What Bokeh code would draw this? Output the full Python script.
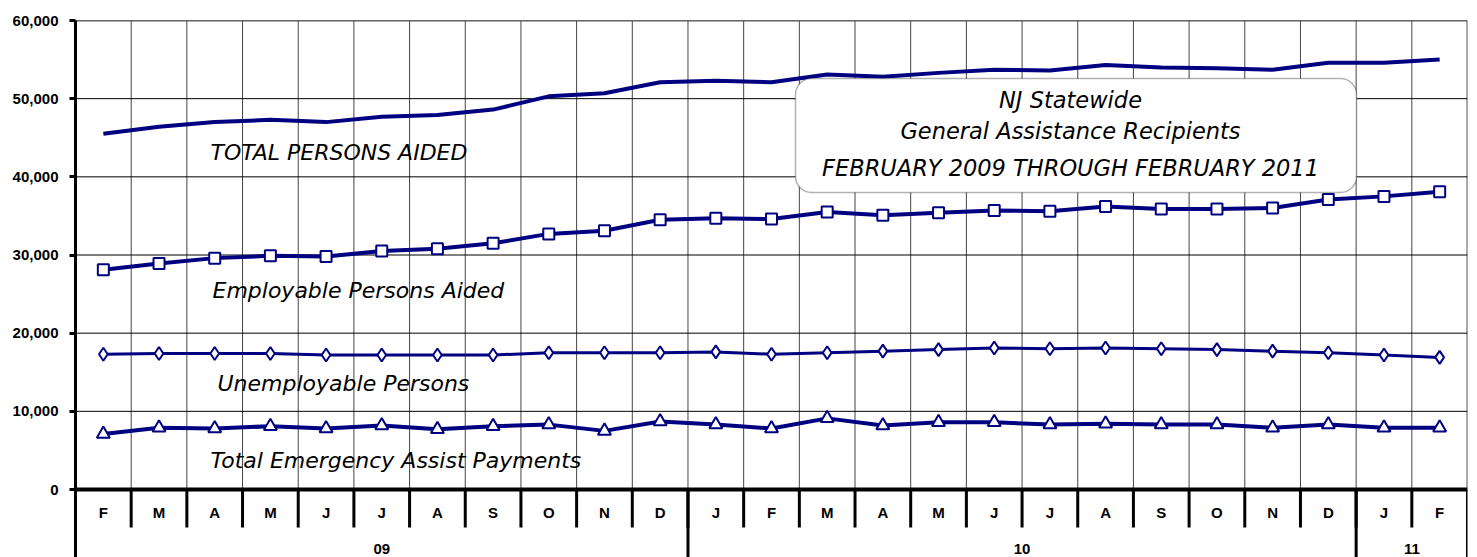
from bokeh.plotting import figure
from bokeh.models import FixedTicker, NumeralTickFormatter, BoxAnnotation, Label
from bokeh.core.properties import value
from bokeh.embed import file_html
from bokeh.resources import INLINE

months = ["F", "M", "A", "M", "J", "J", "A", "S", "O", "N", "D",
          "J", "F", "M", "A", "M", "J", "J", "A", "S", "O", "N", "D",
          "J", "F"]
years = ["09", "10", "11"]
year_counts = [11, 12, 2]

total_aided = [45500, 46400, 47000, 47300, 47000, 47700, 47900, 48600, 50300, 50700, 52100,
               52300, 52100, 53100, 52800, 53300, 53700, 53600, 54300, 54000, 53900, 53700, 54600,
               54600, 55000]
employable = [28100, 28900, 29600, 29900, 29800, 30500, 30800, 31500, 32700, 33100, 34500,
              34700, 34600, 35500, 35100, 35400, 35700, 35600, 36200, 35900, 35900, 36000, 37100,
              37500, 38100]
unemployable = [17300, 17400, 17400, 17400, 17200, 17200, 17200, 17200, 17500, 17500, 17500,
                17600, 17300, 17500, 17700, 17900, 18100, 18000, 18100, 18000, 17900, 17700, 17500,
                17200, 16900]
emergency = [7100, 7900, 7800, 8100, 7800, 8200, 7700, 8100, 8300, 7500, 8700,
             8300, 7800, 9100, 8200, 8600, 8600, 8300, 8400, 8300, 8300, 7900, 8300,
             7900, 7900]
y_ticks = [0, 10000, 20000, 30000, 40000, 50000, 60000]
series_labels = ["TOTAL PERSONS AIDED", "Employable Persons Aided", "Unemployable Persons",
                 "Total Emergency Assist Payments"]
title_lines = ["NJ Statewide", "General Assistance Recipients",
               "FEBRUARY 2009 THROUGH FEBRUARY 2011"]

NAVY = "#000080"
n = len(months)
xs = [i + 0.5 for i in range(n)]

W, H = 1477, 557
LEFT, RIGHT, TOP, ZERO = 75, 1467, 20, 489
PX_PER_UNIT = (ZERO - TOP) / 60000.0
CAT_W = (RIGHT - LEFT) / n
y_bottom = -(H - ZERO) / PX_PER_UNIT


def dx(px):
    return (px - LEFT) / CAT_W


def dy(py):
    return (ZERO - py) / PX_PER_UNIT


p = figure(width=W, height=H, x_range=(0, n), y_range=(y_bottom, 60000),
           output_backend="svg", toolbar_location=None, x_axis_location=None,
           min_border_left=LEFT, min_border_right=W - RIGHT, min_border_top=TOP,
           min_border_bottom=0)
p.outline_line_color = None
p.xgrid.visible = False
p.ygrid.visible = False

# y axis
ax = p.yaxis[0]
ax.ticker = FixedTicker(ticks=y_ticks)
ax.formatter = NumeralTickFormatter(format="0,0")
ax.axis_line_width = 3
ax.axis_line_color = "black"
ax.major_tick_line_width = 3
ax.major_tick_in = 0
ax.major_tick_out = 6
ax.minor_tick_line_color = None
ax.major_label_text_font = "Liberation Sans"
ax.major_label_text_font_style = "bold"
ax.major_label_text_font_size = "15px"
ax.major_label_text_color = "black"
ax.major_label_standoff = 11

# gridlines
inner = list(range(1, n))
p.segment(x0=inner, y0=[0] * len(inner), x1=inner, y1=[60000] * len(inner),
          line_color="#444444", line_width=1)
p.segment(x0=[n], y0=[0], x1=[n], y1=[60000], line_color="#555555", line_width=2)
hy = y_ticks[1:]
p.segment(x0=[0] * len(hy), y0=hy, x1=[n] * len(hy), y1=hy,
          line_color="black", line_width=1)
p.segment(x0=[0], y0=[60000], x1=[n], y1=[60000], line_color="#555555", line_width=2)

# category axis
sep_y = dy(527)
p.segment(x0=inner, y0=[0] * len(inner), x1=inner, y1=[sep_y] * len(inner),
          line_color="black", line_width=3)
bounds = [0]
for c in year_counts:
    bounds.append(bounds[-1] + c)
p.segment(x0=bounds, y0=[0] * len(bounds), x1=bounds, y1=[y_bottom] * len(bounds),
          line_color="black", line_width=3)
p.segment(x0=[0], y0=[0], x1=[n], y1=[0], line_color="black", line_width=4)

p.text(x=xs, y=[dy(512)] * n, text=months, text_font=value("Liberation Sans"),
       text_font_style="bold", text_font_size="15px", text_align="center",
       text_baseline="middle", text_color="black")
year_x = [(bounds[i] + bounds[i + 1]) / 2 for i in range(len(years))]
p.text(x=year_x, y=[dy(548)] * len(years), text=years, text_font=value("Liberation Sans"),
       text_font_style="bold", text_font_size="15px", text_align="center",
       text_baseline="middle", text_color="black")

# series
p.line(xs, total_aided, line_color=NAVY, line_width=4, line_join="round")
p.line(xs, employable, line_color=NAVY, line_width=4, line_join="round")
p.scatter(xs, employable, marker="square", size=11, fill_color="white",
          line_color=NAVY, line_width=2)
p.line(xs, unemployable, line_color=NAVY, line_width=3, line_join="round")
p.scatter(xs, unemployable, marker="diamond", size=13, fill_color="white",
          line_color=NAVY, line_width=2)
p.line(xs, emergency, line_color=NAVY, line_width=4, line_join="round")
p.scatter(xs, emergency, marker="triangle", size=13, fill_color="white",
          line_color=NAVY, line_width=2)

# series labels
lab_x = [dx(210), dx(212), dx(217), dx(210)]
lab_y = [dy(152), dy(290), dy(383), dy(460)]
p.text(x=lab_x, y=lab_y, text=series_labels, text_font=value("DejaVu Sans"),
       text_font_style="italic", text_font_size="22px", text_align="left",
       text_baseline="middle", text_color="black")

# title box
box = BoxAnnotation(left=dx(795), right=dx(1356), top=dy(78), bottom=dy(192),
                    fill_color="white", fill_alpha=1.0, line_color="black",
                    line_width=1.5, border_radius=16)
p.add_layout(box)
for t, py in zip(title_lines, [99, 130, 167]):
    p.add_layout(Label(x=dx(1070), y=dy(py), text=t, text_font="DejaVu Sans",
                       text_font_style="italic", text_font_size="22.5px",
                       text_align="center", text_baseline="middle", text_color="black"))

open("out.html", "w").write(file_html(p, INLINE))
